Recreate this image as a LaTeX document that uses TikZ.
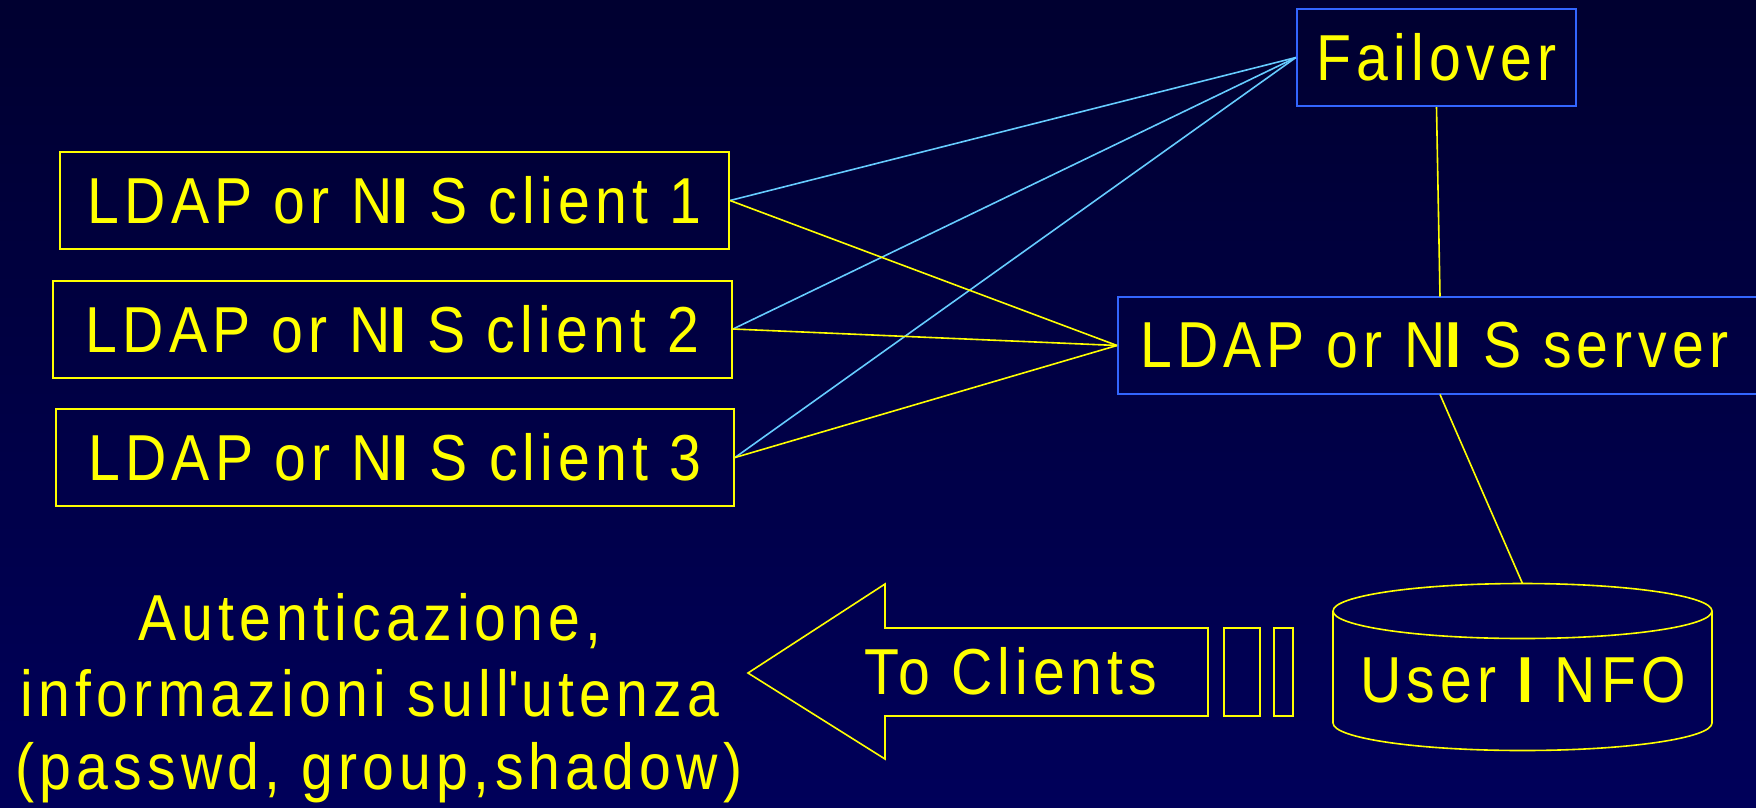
\documentclass[tikz,border=0pt]{standalone}
\usepackage{fontspec}
\setmainfont{Liberation Sans}[FakeStretch=0.88,LetterSpace=8]
\definecolor{bgtop}{RGB}{0,0,48}
\definecolor{bgbot}{RGB}{0,0,90}
\definecolor{ylw}{RGB}{255,255,0}
\definecolor{lblue}{RGB}{102,204,255}
\definecolor{bbox}{RGB}{51,102,255}
\newcommand{\bI}{{\bfseries I}}
\begin{document}
\begin{tikzpicture}[x=1pt,y=-1pt,
  lbl/.style={text=ylw,font=\fontsize{65}{75}\selectfont,inner sep=0pt},
  clientbox/.style={lbl,draw=ylw,line width=2pt,minimum height=97pt},
  bluebox/.style={lbl,draw=bbox,line width=2.2pt,minimum height=97pt},
  bluelink/.style={draw=lblue,line width=1.6pt},
  ylink/.style={draw=ylw,line width=1.6pt},
  outline/.style={draw=ylw,line width=1.6pt}]
\useasboundingbox (0,0) rectangle (1756,807);
\fill[top color=bgtop,bottom color=bgbot] (0,0) rectangle (1756,807);

% nodes
\node[bluebox,minimum width=279pt] (fail) at (1436.5,57.5) {Failover};
\node[clientbox,minimum width=669pt] (c1) at (394.5,200.5) {LDAP or N\bI{} S client 1};
\node[clientbox,minimum width=679pt] (c2) at (392.5,329) {LDAP or N\bI{} S client 2};
\node[clientbox,minimum width=678pt] (c3) at (395,457.5) {LDAP or N\bI{} S client 3};
\node[bluebox,anchor=west,text width=660pt,inner xsep=22pt,align=left] (srv) at (1117,345.5) {LDAP or N\bI{} S server};

% connectors
\draw[bluelink] (c1.east) -- (fail.west);
\draw[bluelink] (c2.east) -- (fail.west);
\draw[bluelink] (c3.east) -- (fail.west);
\draw[ylink] (c1.east) -- (srv.west);
\draw[ylink] (c2.east) -- (srv.west);
\draw[ylink] (c3.east) -- (srv.west);
\coordinate (srvtop) at (1440,296.5);
\coordinate (srvbot) at (1440,394.5);
\coordinate (dbtop) at (1522.5,583.5);
\draw[ylink] (fail.south) -- (srvtop);
\draw[ylink] (srvbot) -- (dbtop);

% database cylinder
\draw[outline] (1522.5,611) ellipse [x radius=189.5pt, y radius=27.5pt];
\draw[outline] (1333,611) -- (1333,723) arc[start angle=180,end angle=360,x radius=189.5pt,y radius=27.5pt] -- (1712,611);
\node[lbl] (db) at (1523,680) {User \bI{} NFO};

% arrow to clients
\draw[outline] (748,673) -- (885,584) -- (885,628) -- (1208,628) -- (1208,716)
  -- (885,716) -- (885,759) -- cycle;
\draw[outline] (1224,628) rectangle (1260,716);
\draw[outline] (1274,628) rectangle (1293,716);
\node[lbl] (tc) at (1011,671) {To Clients};

% left text
\node[lbl,anchor=base] (a1) at (370,640) {Autenticazione,};
\node[lbl,anchor=base] (a2) at (370,716) {informazioni sull\textquotesingle utenza};
\node[lbl,anchor=base] (a3) at (379,789) {(passwd, group,shadow)};
\end{tikzpicture}
\end{document}
